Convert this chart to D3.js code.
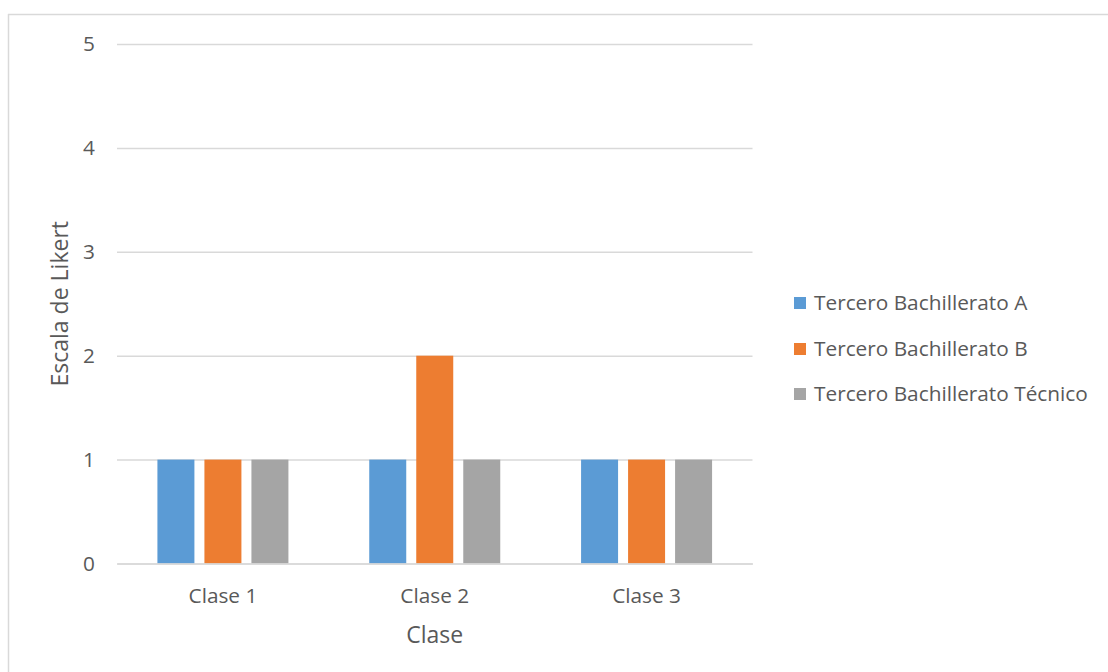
<!DOCTYPE html>
<html>
<head>
<meta charset="utf-8">
<script src="https://cdn.jsdelivr.net/npm/d3@7"></script>
<style>
html,body{margin:0;padding:0;background:#fff;}
svg{display:block;}
text{font-family:"Open Sans","Noto Sans",sans-serif;fill:#595959;}
</style>
</head>
<body>
<script>
const categories = ["Clase 1", "Clase 2", "Clase 3"];
const seriesNames = ["Tercero Bachillerato A", "Tercero Bachillerato B", "Tercero Bachillerato Técnico"];
const seriesA = [1, 1, 1];
const seriesB = [1, 2, 1];
const seriesTecnico = [1, 1, 1];
const yTicks = [0, 1, 2, 3, 4, 5];
const colors = ["#5B9BD5", "#ED7D31", "#A5A5A5"];

const W = 1108, H = 672;
const plot = {left: 117, right: 752.5, top: 44, bottom: 563.5};
const FS = 20.8;

const svg = d3.select("body").append("svg").attr("width", W).attr("height", H);

// frame
svg.append("line").attr("x1", 8).attr("x2", W).attr("y1", 14.5).attr("y2", 14.5)
  .attr("stroke", "#d9d9d9").attr("stroke-width", 1.5);
svg.append("line").attr("x1", 8.5).attr("x2", 8.5).attr("y1", 14).attr("y2", H)
  .attr("stroke", "#d9d9d9").attr("stroke-width", 1.5);

const y = d3.scaleLinear().domain([0, 5]).range([plot.bottom, plot.top]);
const x0 = d3.scaleBand().domain(categories).range([plot.left, plot.right]).paddingInner(0).paddingOuter(0);
const x1 = d3.scaleBand().domain(seriesNames).range([0, 131]).paddingInner(0.213).paddingOuter(0);

// gridlines
const yAxis = d3.axisLeft(y).tickValues(yTicks).tickSize(-(plot.right - plot.left)).tickPadding(22).tickFormat(d3.format("d"));
const gy = svg.append("g").attr("transform", `translate(${plot.left},0)`).call(yAxis);
gy.select(".domain").remove();
gy.selectAll(".tick line").attr("stroke", "#d9d9d9").attr("stroke-width", 1.5);
gy.selectAll(".tick text").attr("font-size", FS).attr("fill", "#595959").style("font-family", "'Open Sans','Noto Sans',sans-serif");

const data = [seriesA, seriesB, seriesTecnico];
const groups = svg.append("g").selectAll("g").data(categories).join("g")
  .attr("transform", d => `translate(${x0(d) + x0.bandwidth() / 2 - 65.5},0)`);
groups.selectAll("rect").data((c, i) => seriesNames.map((s, j) => ({s, j, v: data[j][i]})))
  .join("rect")
  .attr("x", d => x1(d.s))
  .attr("width", x1.bandwidth())
  .attr("y", d => y(d.v))
  .attr("height", d => y(0) - y(d.v))
  .attr("fill", d => colors[d.j]);

// x axis
const xAxis = d3.axisBottom(x0).tickSize(0).tickPadding(25);
const gx = svg.append("g").attr("transform", `translate(0,${plot.bottom})`).call(xAxis);
gx.select(".domain").attr("stroke", "#d9d9d9").attr("stroke-width", 1.5);
gx.selectAll(".tick text").attr("font-size", FS).attr("fill", "#595959").style("font-family", "'Open Sans','Noto Sans',sans-serif");

// axis titles
svg.append("text").attr("x", (plot.left + plot.right) / 2).attr("y", 635).attr("dy", "0.35em")
  .attr("text-anchor", "middle").attr("font-size", 23).text("Clase");
svg.append("text").attr("transform", `translate(60,${(plot.top + plot.bottom) / 2}) rotate(-90)`)
  .attr("text-anchor", "middle").attr("dy", "0.35em").attr("font-size", 23).text("Escala de Likert");

// legend
const legend = svg.append("g");
const rowsY = [303, 349, 394];
seriesNames.forEach((s, i) => {
  legend.append("rect").attr("x", 794).attr("y", rowsY[i] - 6).attr("width", 12).attr("height", 12).attr("fill", colors[i]);
  legend.append("text").attr("x", 814).attr("y", rowsY[i]).attr("dy", "0.35em").attr("font-size", FS).text(s);
});
</script>
</body>
</html>
